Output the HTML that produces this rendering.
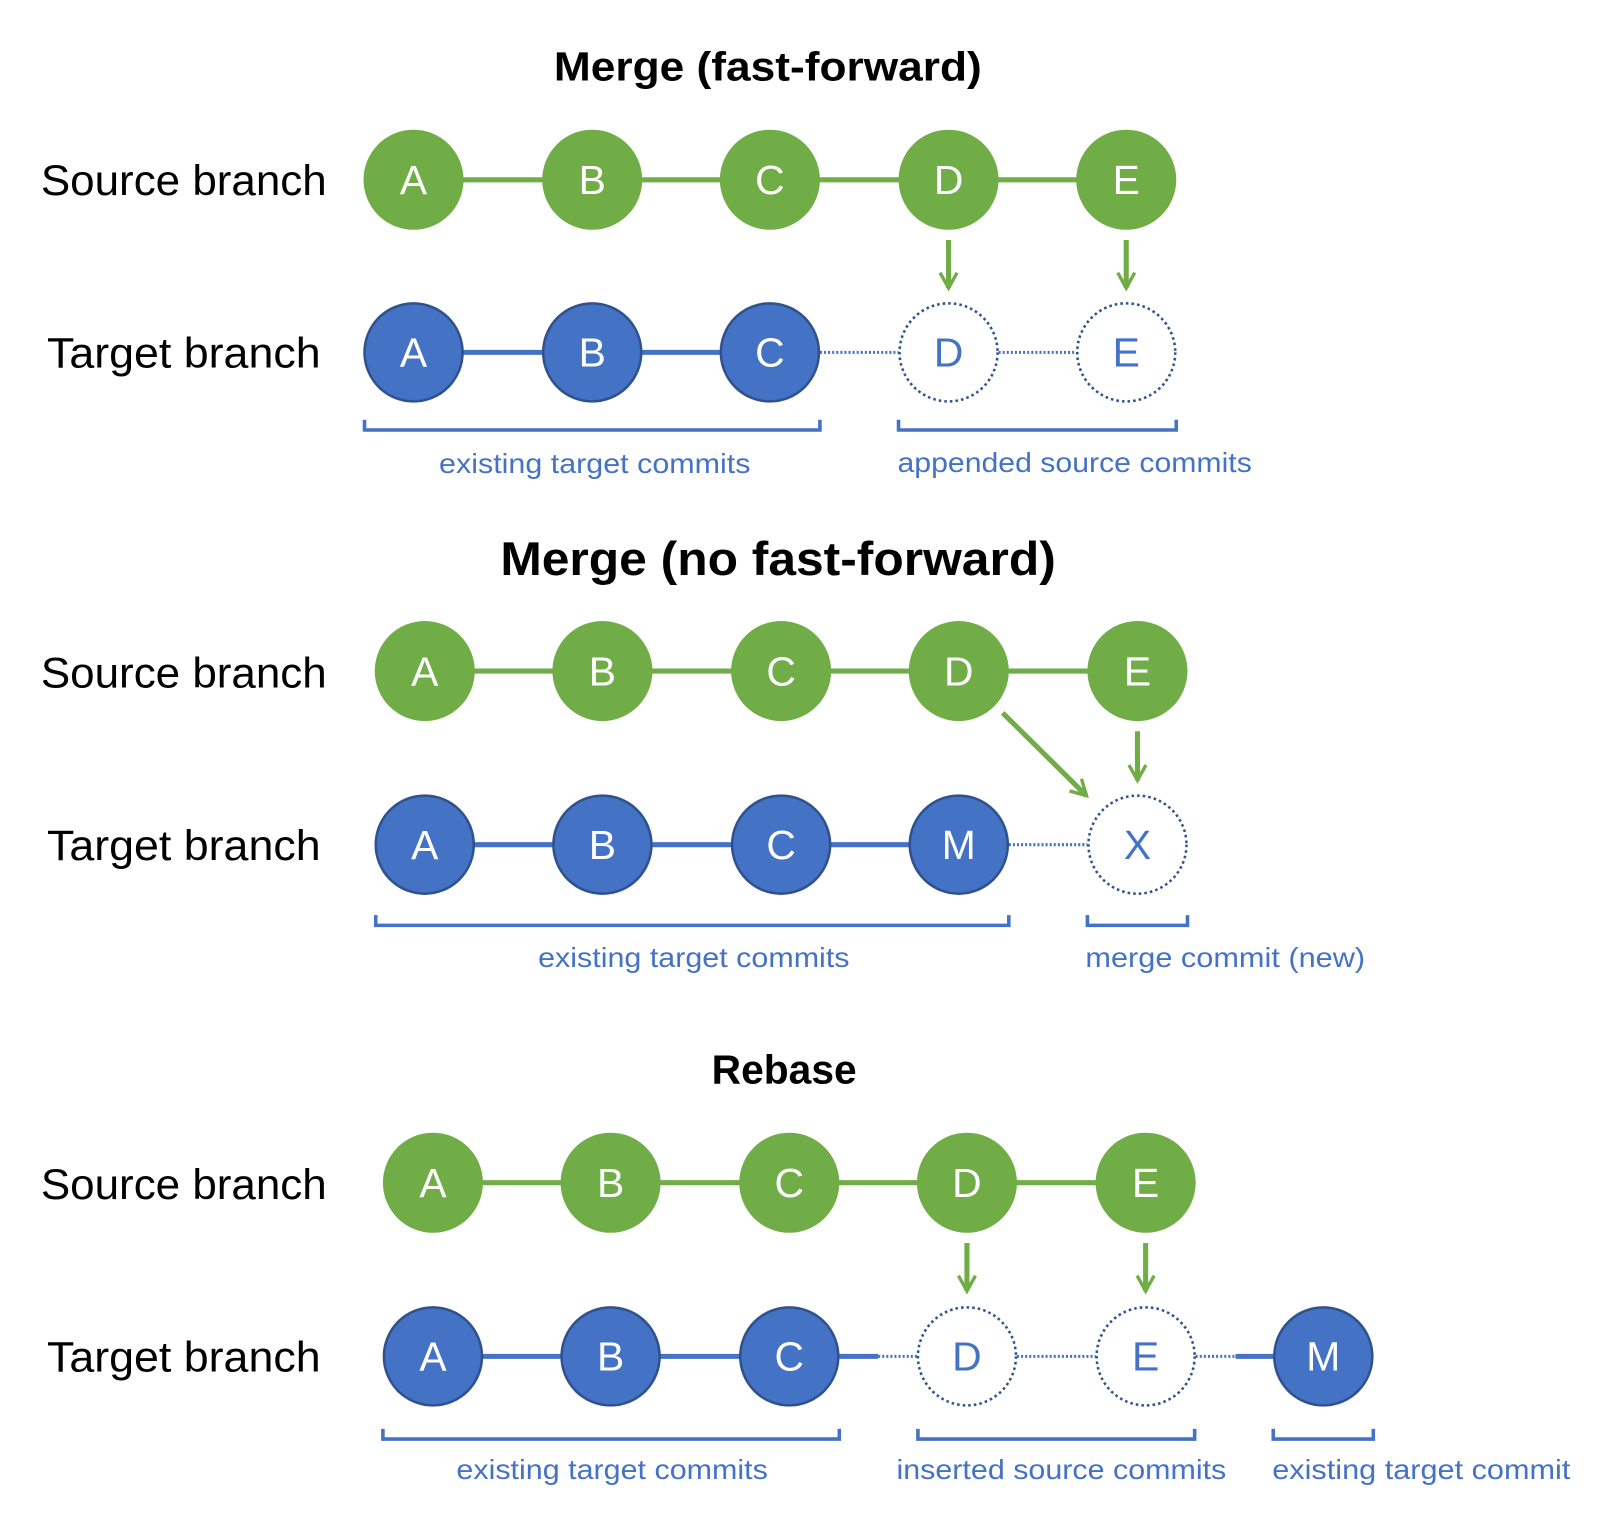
<!DOCTYPE html>
<html><head><meta charset="utf-8"><style>html,body{margin:0;padding:0;background:#fff}svg{display:block}</style></head>
<body>
<svg width="1600" height="1530" viewBox="0 0 1567 1498" preserveAspectRatio="none" xmlns="http://www.w3.org/2000/svg" font-family="Liberation Sans, sans-serif">
<defs>
<marker id="ah" viewBox="0 0 12 12" refX="10" refY="6" markerWidth="4" markerHeight="4" orient="auto" markerUnits="strokeWidth"><path d="M1,1 L10,6 L1,11" fill="none" stroke="#70AD47" stroke-width="2"/></marker>
</defs>
<g font-weight="bold" fill="#000" text-anchor="middle">
<text x="752" y="79" font-size="40" textLength="419" lengthAdjust="spacingAndGlyphs">Merge (fast-forward)</text>
<text x="762" y="563" font-size="46" textLength="544" lengthAdjust="spacingAndGlyphs">Merge (no fast-forward)</text>
<text x="768" y="1061" font-size="40" textLength="142" lengthAdjust="spacingAndGlyphs">Rebase</text>
</g>
<g font-size="42" fill="#000">
<text x="40" y="191" textLength="280" lengthAdjust="spacingAndGlyphs">Source branch</text>
<text x="46" y="360" textLength="268" lengthAdjust="spacingAndGlyphs">Target branch</text>
<text x="40" y="673" textLength="280" lengthAdjust="spacingAndGlyphs">Source branch</text>
<text x="46" y="842" textLength="268" lengthAdjust="spacingAndGlyphs">Target branch</text>
<text x="40" y="1174" textLength="280" lengthAdjust="spacingAndGlyphs">Source branch</text>
<text x="46" y="1343" textLength="268" lengthAdjust="spacingAndGlyphs">Target branch</text>
</g>
<g stroke-width="5">
<line x1="405" y1="176" x2="1103" y2="176" stroke="#70AD47"/>
<line x1="405" y1="345" x2="754" y2="345" stroke="#4472C4"/>
<line x1="416" y1="657" x2="1114" y2="657" stroke="#70AD47"/>
<line x1="416" y1="827" x2="939" y2="827" stroke="#4472C4"/>
<line x1="424" y1="1158" x2="1122" y2="1158" stroke="#70AD47"/>
<line x1="424" y1="1328" x2="860" y2="1328" stroke="#4472C4"/>
<line x1="1210" y1="1328" x2="1296" y2="1328" stroke="#4472C4"/>
</g>
<g stroke="#4472C4" stroke-width="3" stroke-dasharray="2 2">
<line x1="803" y1="345" x2="880" y2="345"/><line x1="978" y1="345" x2="1054" y2="345"/>
<line x1="988" y1="827" x2="1065" y2="827"/>
<line x1="860" y1="1328" x2="898" y2="1328"/><line x1="996" y1="1328" x2="1073" y2="1328"/><line x1="1171" y1="1328" x2="1210" y2="1328"/>
</g>
<g stroke="#70AD47" stroke-width="5" fill="none" marker-end="url(#ah)">
<line x1="929" y1="235" x2="929" y2="282"/>
<line x1="1103" y1="235" x2="1103" y2="282"/>
<line x1="1114" y1="716" x2="1114" y2="764"/>
<line x1="982" y1="698" x2="1064" y2="779"/>
<line x1="947" y1="1217" x2="947" y2="1264"/>
<line x1="1122" y1="1217" x2="1122" y2="1264"/>
</g>
<g fill="#70AD47">
<circle cx="405" cy="176" r="49"/><circle cx="580" cy="176" r="49"/><circle cx="754" cy="176" r="49"/><circle cx="929" cy="176" r="49"/><circle cx="1103" cy="176" r="49"/>
<circle cx="416" cy="657" r="49"/><circle cx="590" cy="657" r="49"/><circle cx="765" cy="657" r="49"/><circle cx="939" cy="657" r="49"/><circle cx="1114" cy="657" r="49"/>
<circle cx="424" cy="1158" r="49"/><circle cx="598" cy="1158" r="49"/><circle cx="773" cy="1158" r="49"/><circle cx="947" cy="1158" r="49"/><circle cx="1122" cy="1158" r="49"/>
</g>
<g fill="#4472C4" stroke="#2F528F" stroke-width="2.5">
<circle cx="405" cy="345" r="48"/><circle cx="580" cy="345" r="48"/><circle cx="754" cy="345" r="48"/>
<circle cx="416" cy="827" r="48"/><circle cx="590" cy="827" r="48"/><circle cx="765" cy="827" r="48"/><circle cx="939" cy="827" r="48"/>
<circle cx="424" cy="1328" r="48"/><circle cx="598" cy="1328" r="48"/><circle cx="773" cy="1328" r="48"/><circle cx="1296" cy="1328" r="48"/>
</g>
<g fill="#fff" stroke="#2F528F" stroke-width="2.5" stroke-dasharray="2.5 3">
<circle cx="929" cy="345" r="48"/><circle cx="1103" cy="345" r="48"/>
<circle cx="1114" cy="827" r="48"/>
<circle cx="947" cy="1328" r="48"/><circle cx="1122" cy="1328" r="48"/>
</g>
<g font-size="40" fill="#fff" text-anchor="middle">
<text x="405" y="190">A</text><text x="580" y="190">B</text><text x="754" y="190">C</text><text x="929" y="190">D</text><text x="1103" y="190">E</text>
<text x="405" y="359">A</text><text x="580" y="359">B</text><text x="754" y="359">C</text>
<text x="416" y="671">A</text><text x="590" y="671">B</text><text x="765" y="671">C</text><text x="939" y="671">D</text><text x="1114" y="671">E</text>
<text x="416" y="841">A</text><text x="590" y="841">B</text><text x="765" y="841">C</text><text x="939" y="841">M</text>
<text x="424" y="1172">A</text><text x="598" y="1172">B</text><text x="773" y="1172">C</text><text x="947" y="1172">D</text><text x="1122" y="1172">E</text>
<text x="424" y="1342">A</text><text x="598" y="1342">B</text><text x="773" y="1342">C</text><text x="1296" y="1342">M</text>
</g>
<g font-size="40" fill="#4472C4" text-anchor="middle">
<text x="929" y="359">D</text><text x="1103" y="359">E</text>
<text x="1114" y="841">X</text>
<text x="947" y="1342">D</text><text x="1122" y="1342">E</text>
</g>
<g fill="none" stroke="#4472C4" stroke-width="3.5">
<path d="M357,411 V421 H803 V411"/><path d="M880,411 V421 H1152 V411"/>
<path d="M368,896 V906 H988 V896"/><path d="M1065,896 V906 H1163 V896"/>
<path d="M375,1399 V1409 H822 V1399"/><path d="M899,1399 V1409 H1170 V1399"/><path d="M1247,1399 V1409 H1345 V1399"/>
</g>
<g font-size="27" fill="#4472C4">
<text x="430" y="463" textLength="305" lengthAdjust="spacingAndGlyphs">existing target commits</text>
<text x="879" y="462" textLength="347" lengthAdjust="spacingAndGlyphs">appended source commits</text>
<text x="527" y="947" textLength="305" lengthAdjust="spacingAndGlyphs">existing target commits</text>
<text x="1063" y="947" textLength="274" lengthAdjust="spacingAndGlyphs">merge commit (new)</text>
<text x="447" y="1448" textLength="305" lengthAdjust="spacingAndGlyphs">existing target commits</text>
<text x="878" y="1448" textLength="323" lengthAdjust="spacingAndGlyphs">inserted source commits</text>
<text x="1246" y="1448" textLength="292" lengthAdjust="spacingAndGlyphs">existing target commit</text>
</g>
</svg>
</body></html>
